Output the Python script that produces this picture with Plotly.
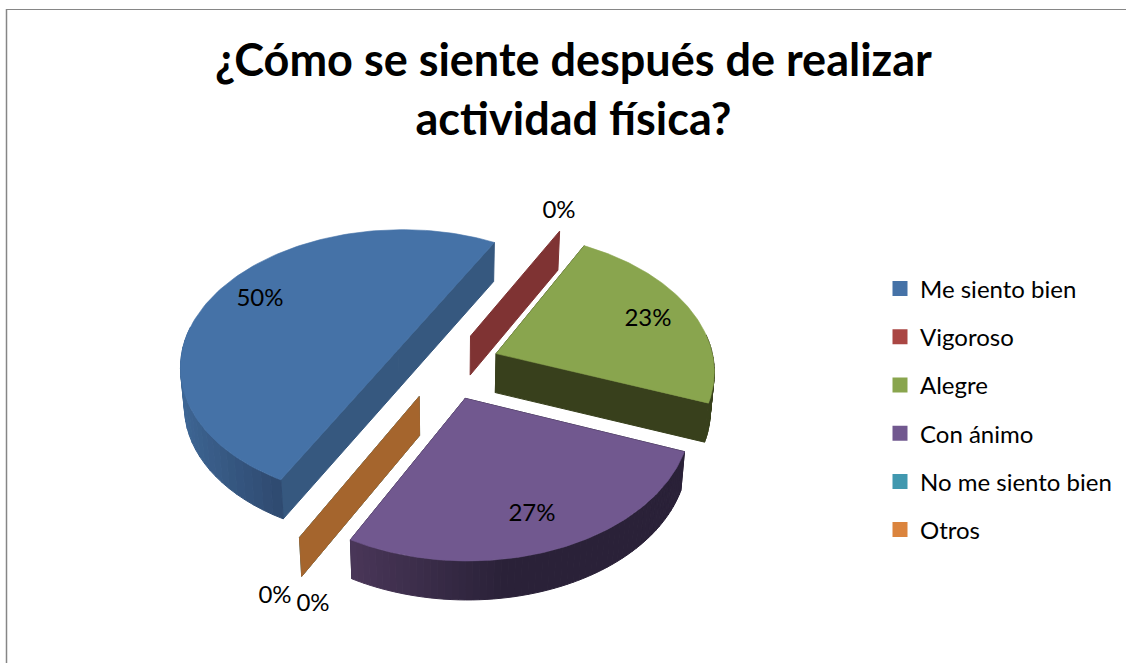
import numpy as np
import plotly.graph_objects as go

title = "¿Cómo se siente después de realizar<br>actividad física?"
categories = ["Me siento bien", "Vigoroso", "Alegre", "Con ánimo", "No me siento bien", "Otros"]
values = [50, 0, 23, 27, 0, 0]
value_labels = ["50%", "0%", "23%", "27%", "0%", "0%"]

legend_colors = ["#4572A7", "#AA4643", "#89A54E", "#71588F", "#4198AF", "#DB843D"]
top_colors = ["#4572A7", "#7F3333", "#89A54E", "#71588F", "#327a8c", "#A5652D"]
cut_colors = ["#36587F", "#7F3333", "#38401C", "#2A2138", "#327a8c", "#A5652D"]
wall_left = ["#3F6897", "#7F3333", "#38401C", "#4A3759", "#327a8c", "#A5652D"]
wall_right = ["#2F4A70", "#7F3333", "#38401C", "#2A2138", "#327a8c", "#A5652D"]
wall_span = [(-1.0, -0.47), (0, 1), (0, 1), (-0.47, 0.15), (0, 1), (0, 1)]
label_xy = [(260, 300), (559, 212), (648, 320), (532, 515), (313, 605), (275, 597)]

first_angle = 208.0
explode = 0.25
D, F, G, CX, CY = 9.0, 1965.0, 1230.0, 445.5, 365.5
DEPTH, SHRINK = 39.0, 0.985


def project(X, T):
    return CX + F * X / (D + T), CY - G * T / (D + T)


def lower(sx, sy):
    return CX + (np.asarray(sx) - CX) * SHRINK, np.asarray(sy) + DEPTH


def hex2rgb(h):
    return np.array([int(h[i:i + 2], 16) for i in (1, 3, 5)], float)


def mix(a, b, f):
    c = hex2rgb(a) * (1 - f) + hex2rgb(b) * f
    return "rgb(%d,%d,%d)" % tuple(c)


fig = go.Figure()


def poly(xs, ys, color, width=0.6):
    fig.add_trace(go.Scatter(
        x=list(xs), y=list(ys), mode="lines", fill="toself", fillcolor=color,
        line=dict(color=color, width=width), hoverinfo="skip", showlegend=False))


total = sum(values)
start = first_angle
for i, v in enumerate(values):
    sweep = 360.0 * v / total
    a0, a1 = np.radians(start), np.radians(start + sweep)
    mid = (a0 + a1) / 2
    ox, ot = explode * np.sin(mid), explode * np.cos(mid)
    vx, vy = project(ox, ot)

    def rim(a):
        return project(ox + np.sin(a), ot + np.cos(a))

    for a in ([a0, a1] if sweep > 0 else [a0]):
        rx, ry = rim(a)
        bvx, bvy = lower(vx, vy)
        brx, bry = lower(rx, ry)
        poly([vx, rx, brx, bvx, vx], [vy, ry, bry, bvy, vy], cut_colors[i], 1.0)
    if sweep > 0:
        ang = np.linspace(a0, a1, 120)
        strips = np.linspace(a0, a1, 61)
        lo, hi = wall_span[i]
        for s0, s1 in zip(strips[:-1], strips[1:]):
            if np.cos((s0 + s1) / 2) > 0.15:
                continue
            aa = np.linspace(s0, s1, 4)
            tx, ty = rim(aa)
            bx, by = lower(tx, ty)
            f = float(np.clip((np.sin((s0 + s1) / 2) - lo) / (hi - lo), 0, 1))
            poly(np.r_[tx, bx[::-1], tx[0]], np.r_[ty, by[::-1], ty[0]],
                 mix(wall_left[i], wall_right[i], f), 1.0)
        tx, ty = rim(ang)
        poly(np.r_[vx, tx, vx], np.r_[vy, ty, vy], top_colors[i])
    start += sweep

fig.add_trace(go.Scatter(
    x=[p[0] for p in label_xy], y=[p[1] for p in label_xy], text=value_labels,
    mode="text", textposition="middle center",
    textfont=dict(family="Lato", size=24, color="#000000"),
    hoverinfo="skip", showlegend=False))

for name, color in zip(categories, legend_colors):
    fig.add_trace(go.Scatter(
        x=[None], y=[None], mode="markers", name=name, legendgroup=name,
        marker=dict(symbol="square", size=15, color=color)))

fig.update_layout(
    width=1126, height=663, autosize=False,
    margin=dict(l=0, r=0, t=0, b=0),
    paper_bgcolor="white", plot_bgcolor="white",
    xaxis=dict(range=[0, 1126], visible=False, fixedrange=True),
    yaxis=dict(range=[663, 0], visible=False, fixedrange=True),
    legend=dict(x=880 / 1126, xanchor="left", y=1 - 266.5 / 663, yanchor="top",
                font=dict(family="Lato", size=24, color="#000000"),
                tracegroupgap=14, bgcolor="rgba(0,0,0,0)"),
    annotations=[dict(text=title, x=573, y=30, xref="x", yref="y", xanchor="center",
                      yanchor="top", showarrow=False, align="center",
                      font=dict(family="Lato", size=45, color="#000000", weight="bold"))],
    shapes=[
        dict(type="line", x0=6, x1=1126, y0=9.5, y1=9.5, line=dict(color="#868686", width=1)),
        dict(type="line", x0=6.5, x1=6.5, y0=9, y1=663, line=dict(color="#868686", width=1.5)),
    ],
)
fig.write_html("out.html", config={"displayModeBar": False},
               post_script="document.body.style.margin='0';")
